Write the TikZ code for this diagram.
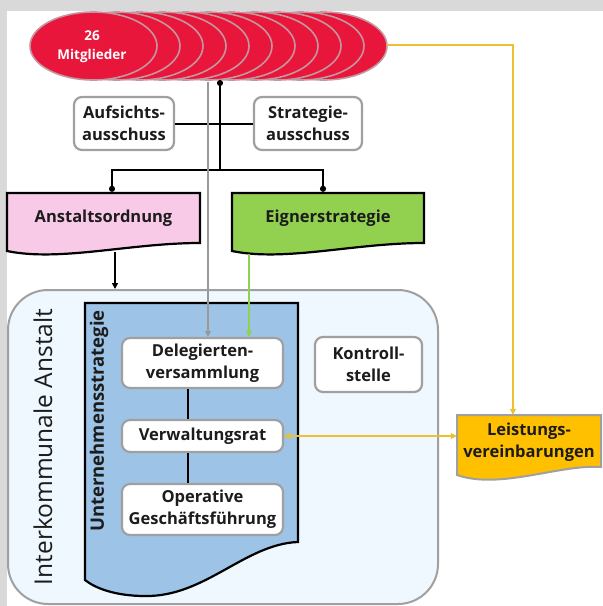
\documentclass[tikz,border=0pt]{standalone}
\usepackage{fontspec}
\setmainfont{Open Sans}
\usetikzlibrary{arrows.meta}

\definecolor{bggray}{RGB}{217,217,217}
\definecolor{memred}{RGB}{232,22,58}
\definecolor{memedge}{RGB}{196,150,160}
\definecolor{boxgray}{RGB}{160,160,160}
\definecolor{txtdark}{RGB}{28,28,28}
\definecolor{ordpink}{RGB}{249,201,232}
\definecolor{strgreen}{RGB}{146,208,80}
\definecolor{ianfill}{RGB}{238,248,254}
\definecolor{unblue}{RGB}{157,195,230}
\definecolor{linkyellow}{RGB}{236,192,48}
\definecolor{leisorange}{RGB}{255,192,0}

\begin{document}
\begin{tikzpicture}[
  x=1pt, y=-1pt,
  every node/.style = {font=\fontsize{16.5}{22}\selectfont\bfseries, text=txtdark, align=center, inner sep=0pt},
  orgbox/.style   = {draw=boxgray, line width=2.2pt, fill=white, rounded corners=8pt},
  docbox/.style   = {draw=black, line width=2.2pt},
  link/.style     = {line width=2pt, black},
  grayline/.style = {line width=2pt, gray!80},
  greenline/.style= {line width=2pt, strgreen},
  yline/.style    = {line width=2pt, linkyellow},
  >={Triangle[length=6pt, width=6pt]},
]

% ── Frame ───────────────────────────────────────────────────────────────────
\useasboundingbox (0,0) rectangle (603,606);
\fill[bggray] (0,0) rectangle (603,606);
\fill[white]  (7,11) rectangle (603,606);

% ── Members (stack of ellipses) ─────────────────────────────────────────────
\foreach \k in {10,9,...,0} {
  \draw[fill=memred, draw=memedge, line width=1.6pt]
    ({93.5+23*\k},46) ellipse [x radius=63.5pt, y radius=34pt];
}
\node[white, font=\fontsize{13.5}{19}\selectfont\bfseries] (mit) at (92,47) {26\\Mitglieder};
\coordinate (mitB) at (220,80);
\coordinate (mitG) at (208,82);
\coordinate (mitR) at (387,45);

% ── Committees ──────────────────────────────────────────────────────────────
\node[orgbox, minimum width=100, minimum height=53] (aufs)  at (124,123.5) {Aufsichts-\\ausschuss};
\node[orgbox, minimum width=108, minimum height=53] (strat) at (308,123.5) {Strategie-\\ausschuss};

% ── Ordinance and owner strategy (document shapes) ──────────────────────────
\draw[docbox, fill=ordpink]  (7,193) -- (200,193) -- (200,243)
  .. controls (130,243) and (60,262) .. (7,251) -- cycle;
\node[minimum width=193, minimum height=50] (anst) at (103.5,218) {Anstaltsordnung};
\draw[docbox, fill=strgreen] (232,193) -- (424,193) -- (424,243)
  .. controls (354,243) and (285,262) .. (232,251) -- cycle;
\node[minimum width=192, minimum height=50] (eign) at (328,218) {Eignerstrategie};
\coordinate (anstB) at (115,252);
\coordinate (eignB) at (249,254);

% ── Interkommunale Anstalt ──────────────────────────────────────────────────
\node[draw=boxgray, line width=2pt, fill=ianfill, rounded corners=40pt,
      minimum width=430, minimum height=314] (anstalt) at (223,447) {};
\node[rotate=90, font=\fontsize{24.5}{28}\selectfont] (ianlabel) at (43,447) {Interkommunale Anstalt};

% blue strategy sheet
\draw[docbox, fill=unblue] (85,303) -- (298,303) -- (298,542)
  .. controls (245,544) and (205,597) .. (145,596)
  .. controls (115,596) and (95,588) .. (85,580) -- cycle;
\node[rotate=90, font=\fontsize{18.5}{22}\selectfont\bfseries] (ustrat) at (99,421) {Unternehmensstrategie};

% organs
\node[orgbox, minimum width=161, minimum height=50] (dele)  at (202.5,363)   {Delegierten-\\versammlung};
\node[orgbox, minimum width=161, minimum height=32] (verw)  at (202.5,436)   {Verwaltungsrat};
\node[orgbox, minimum width=161, minimum height=51] (oper)  at (202.5,509.5) {Operative\\Geschäftsführung};
\node[orgbox, minimum width=107, minimum height=55] (kontr) at (368.5,364.5) {Kontroll-\\stelle};

\draw[link] (188,0 |- dele.south) -- (188,0 |- verw.north);
\draw[link] (188,0 |- verw.south) -- (188,0 |- oper.north);

% ── Leistungsvereinbarungen ─────────────────────────────────────────────────
\draw[draw=boxgray, line width=2pt, fill=leisorange] (457,415) -- (601,415) -- (601,467)
  .. controls (560,464) and (500,490) .. (457,475) -- cycle;
\node[minimum width=144, minimum height=55] (leis) at (529,442.5) {Leistungs-\\vereinbarungen};

% ── Connectors ──────────────────────────────────────────────────────────────
\coordinate (junc) at (220,170);
\draw[link, {Circle[length=6pt]}-] (mitB) -- (junc);
\draw[link] (aufs.east) -- (strat.west);
\draw[link, -{Circle[length=6pt]}, shorten >=1pt] (junc) -| (112,0 |- anst.north);
\draw[link, -{Circle[length=6pt]}, shorten >=1pt] (junc) -| (323,0 |- eign.north);
\draw[link, ->] (anstB) -- (anstB |- anstalt.north);

\draw[grayline, ->]  (mitG) -- (mitG |- dele.north);
\draw[greenline, ->] (eignB) -- (eignB |- dele.north);

\coordinate (ycorner) at (513,45);
\draw[yline, ->]  (mitR) -- (ycorner) -- (ycorner |- leis.north);
\draw[yline, <->] (verw.east) -- (verw.east -| leis.west);

\end{tikzpicture}
\end{document}
